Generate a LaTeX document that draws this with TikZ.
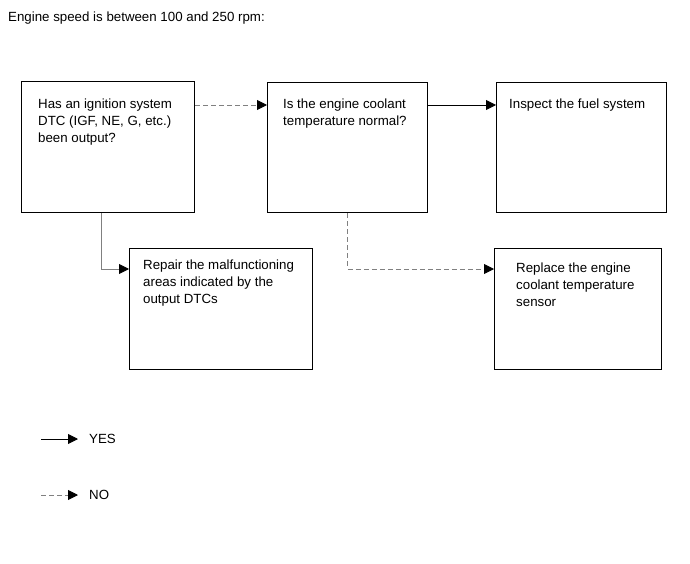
\documentclass[tikz,border=0pt]{standalone}
\usepackage{fontspec}
\setmainfont{Liberation Sans}
\usetikzlibrary{arrows.meta,positioning}

\begin{document}
\begin{tikzpicture}[x=1pt, y=1pt, >={Triangle[length=10pt,width=10pt,color=black]},
  font=\fontsize{13.3}{17}\selectfont,
  box/.style={draw, line width=1.3pt, anchor=north west, inner sep=0pt},
  txt/.style={align=left, inner sep=0pt},
  yes/.style={->, line width=0.9pt},
  no/.style={->, line width=0.9pt, gray, dash pattern=on 5pt off 3pt}]
\useasboundingbox (0,0) rectangle (690,-564);
\node[anchor=base west, inner sep=0pt] (title) at (8,-22) {Engine speed is between 100 and 250 rpm:};
% question and answer boxes
\node[box, minimum width=173pt, minimum height=131pt] (q1) at (21,-81) {};
\node[box, minimum width=160pt, minimum height=130pt] (q2) at (267,-82) {};
\node[box, minimum width=170pt, minimum height=130pt] (fuel) at (496,-82) {};
\node[box, minimum width=183pt, minimum height=121pt] (rep) at (129,-248) {};
\node[box, minimum width=167pt, minimum height=121pt] (ect) at (494,-248) {};
\node[txt, below right=18pt and 17pt of q1.north west] (q1t) {Has an ignition system\\DTC (IGF, NE, G, etc.)\\been output?};
\node[txt, below right=17pt and 16pt of q2.north west] (q2t) {Is the engine coolant\\temperature normal?};
\node[txt, below right=17pt and 13pt of fuel.north west] (fuelt) {Inspect the fuel system};
\node[txt, below right=12pt and 14pt of rep.north west] (rept) {Repair the malfunctioning\\areas indicated by the\\output DTCs};
\node[txt, below right=15pt and 22pt of ect.north west] (ectt) {Replace the engine\\coolant temperature\\sensor};
\draw[no] ([yshift=-24pt]q1.north east) -- ([yshift=-23pt]q2.north west);
\draw[yes] ([yshift=-23pt]q2.north east) -- ([yshift=-23pt]fuel.north west);
\draw[yes, gray] ([xshift=-6.5pt]q1.south) |- ([yshift=-21pt]rep.north west);
\draw[no] (q2.south) |- ([yshift=-21pt]ect.north west);
% legend
\coordinate (ys) at (41,-439);
\coordinate (ns) at (41,-495);
\node[anchor=west, inner sep=0pt] (lyes) at (89,-439) {YES};
\node[anchor=west, inner sep=0pt] (lno) at (89,-495) {NO};
\draw[yes] (ys) -- ([xshift=-11pt]lyes.west);
\draw[no] (ns) -- ([xshift=-11pt]lno.west);
\end{tikzpicture}
\end{document}
